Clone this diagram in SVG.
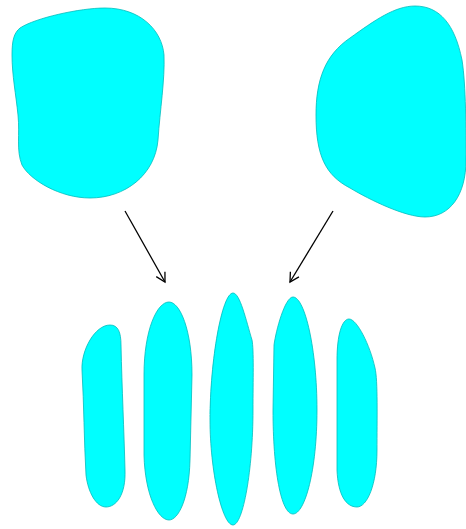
<svg xmlns="http://www.w3.org/2000/svg" width="466" height="529" viewBox="0 0 466 529">
<style>
.blob{fill:#00ffff;stroke:#00bcbc;stroke-width:0.8}
.conn{stroke:#000;stroke-width:1.3;fill:none}
</style>
<defs>
<marker id="arr" markerWidth="12" markerHeight="12" refX="10" refY="6" orient="auto" markerUnits="userSpaceOnUse">
<path d="M1,1 L10,6 L1,11" fill="none" stroke="#000" stroke-width="1.3"/>
</marker>
</defs>
<rect width="466" height="529" fill="#fff"/>
<g id="blob-left"><path class="blob" d="M 20,28 C 35,18 80,8 105,8 C 140,8 162,30 164,55 C 165,80 160,110 158,140 C 155,175 125,198 90,198 C 60,198 30,180 22,165 C 16,150 20,135 18,115 C 16,95 12,75 12,55 C 12,40 14,33 20,28 Z"/></g>
<g id="blob-right"><path class="blob" d="M 316,115 C 316,80 325,55 350,38 C 375,20 395,6 415,6 C 440,6 455,25 462,60 C 466,85 466,130 466,160 C 466,195 450,217 425,217 C 405,217 370,200 350,188 C 325,175 316,155 316,115 Z"/></g>
<g id="piece1"><path class="blob" d="M 110,325 C 118,325 121,332 121,345 C 122,390 124,430 125,470 C 126,495 116,507 106,507 C 96,507 88,492 86,475 C 84,440 84,405 82,370 C 81,350 95,325 110,325 Z"/></g>
<g id="piece2"><path class="blob" d="M 169,302 C 180,302 192,330 192,375 L 190,460 C 189,500 178,520 169,520 C 158,520 145,495 144,455 L 144,375 C 144,330 157,302 169,302 Z"/></g>
<g id="piece3"><path class="blob" d="M 233,293 C 240,293 246,320 252,340 C 254,350 253,380 253,410 C 253,470 243,525 233,525 C 222,525 210,470 210,420 C 210,360 222,293 233,293 Z"/></g>
<g id="piece4"><path class="blob" d="M 293,297 C 305,297 317,350 317,410 C 317,470 305,514 293,514 C 281,514 273,470 273,410 L 274,345 C 276,330 285,297 293,297 Z"/></g>
<g id="piece5"><path class="blob" d="M 349,319 C 357,319 370,345 375,368 C 378,380 377,420 377,450 C 377,485 367,507 357,507 C 346,507 338,495 337,470 L 337,360 C 337,335 342,319 349,319 Z"/></g>
<g id="connectors">
<line class="conn" x1="125" y1="211" x2="165" y2="282" marker-end="url(#arr)"/>
<line class="conn" x1="333" y1="211" x2="290" y2="282" marker-end="url(#arr)"/>
</g>
</svg>
